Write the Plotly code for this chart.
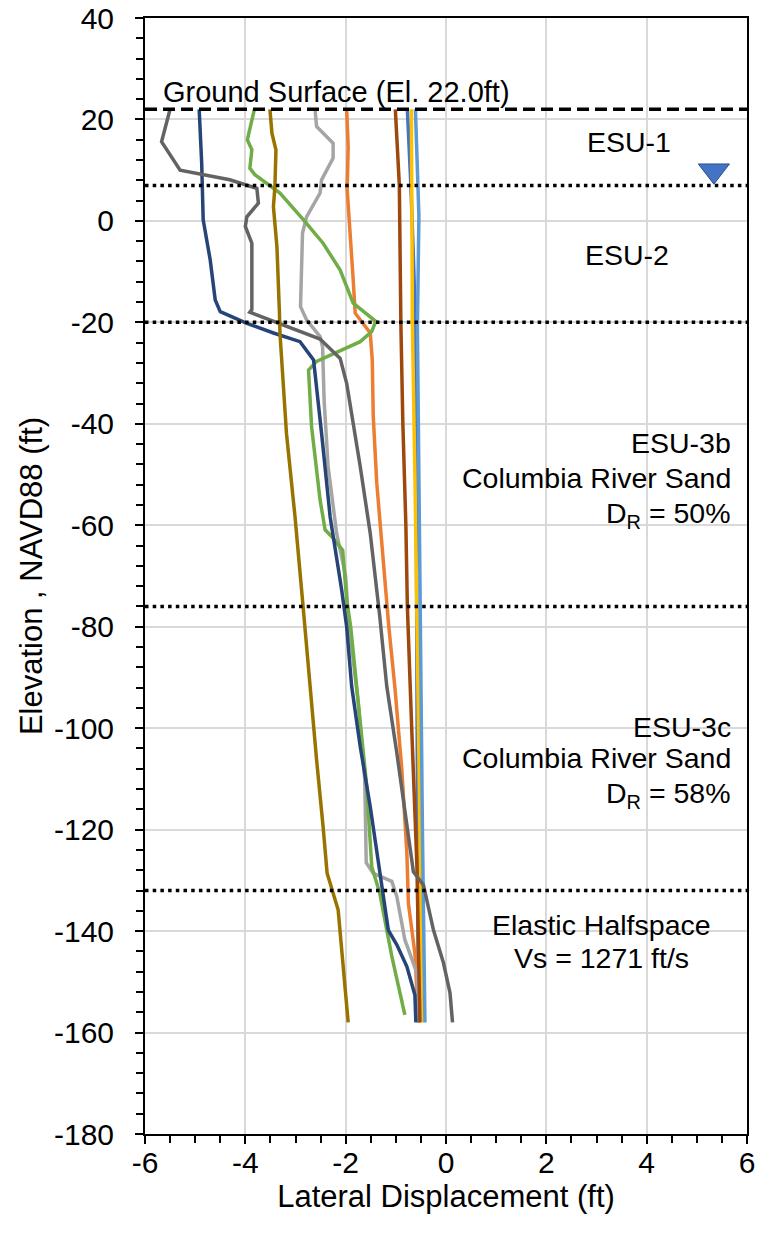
import plotly.graph_objects as go

# Lateral displacement profiles (ft) versus elevation (ft, NAVD88)
blue_x = [-0.77, -0.70, -0.64, -0.61, -0.60, -0.58, -0.56, -0.55]
blue_y = [22, 7, -10, -21, -40, -80, -120, -158]

orange_x = [-1.98, -1.95, -1.97, -1.91, -1.85, -1.81, -1.51, -1.47, -1.45, -1.38, -1.25, -1.14,
            -1.02, -0.88, -0.78, -0.75, -0.62, -0.55]
orange_y = [22, 14.6, 6.2, -1.7, -11.6, -18.2, -22.1, -27.4, -38.6, -51.7, -68.1, -80,
            -91.8, -108.2, -124.6, -134.5, -144.4, -158]

gray_x = [-2.61, -2.58, -2.25, -2.25, -2.48, -2.51, -2.78, -2.86, -2.90, -2.78, -2.51, -2.46,
          -2.43, -2.35, -2.18, -2.00, -1.95, -1.75, -1.62, -1.59, -1.45, -1.08, -0.98, -0.82,
          -0.58, -0.54]
gray_y = [22, 18.6, 15.3, 12.4, 8.1, 5.5, 0.8, -2.4, -16.9, -19.5, -22.8, -24.8,
          -35.3, -48.4, -61.6, -70, -78, -95, -110, -126.5, -128.6, -130.2, -133.2, -141.7,
          -148.3, -158]

gold_x = [-0.69, -0.67, -0.62, -0.58, -0.52, -0.48]
gold_y = [22, -20, -50, -76, -120, -158]

lightblue_x = [-0.61, -0.54, -0.57, -0.55, -0.52, -0.47, -0.42]
lightblue_y = [22, 1, -21, -43, -76, -120, -158]

green_x = [-3.82, -3.96, -3.87, -3.91, -3.81, -3.31, -2.84, -2.45, -2.11, -1.85, -1.40, -1.48,
           -1.71, -2.58, -2.74, -2.68, -2.51, -2.41, -2.28, -2.06, -1.98, -1.90, -1.68, -1.58,
           -1.48, -1.32, -1.18, -1.08, -0.82]
green_y = [22, 16, 14.0, 10.4, 9.1, 5.5, 0.2, -4.4, -9.7, -16.2, -19.8, -21.8,
           -23.8, -27.7, -29.4, -40.5, -55, -60.9, -62.2, -64.9, -74.7, -80, -101.7, -111.5,
           -127.3, -132.5, -139.8, -145, -156.5]

darkblue_x = [-4.92, -4.87, -4.84, -4.70, -4.60, -4.50, -3.97, -3.44, -2.91, -2.64, -2.48, -2.31,
              -2.08, -1.98, -1.88, -1.71, -1.51, -1.35, -1.15, -0.98, -0.78, -0.62, -0.60]
darkblue_y = [22, 11.4, 0.2, -7.7, -15.6, -17.9, -20.2, -22.1, -23.8, -27.4, -41.9, -58.3,
              -72.7, -80, -91.8, -103.6, -115.5, -126.6, -139.8, -142.7, -147, -152.6, -158]

brown_x = [-1.01, -0.93, -0.90, -0.86, -0.80, -0.77, -0.68, -0.58, -0.52]
brown_y = [22, 7, -20, -40, -60, -76, -101, -127, -158]

darkgray_x = [-5.50, -5.67, -5.30, -4.31, -3.77, -3.74, -3.97, -4.00, -3.87, -3.87, -3.91, -2.51,
              -2.11, -1.98, -1.71, -1.51, -1.32, -1.18, -0.98, -0.65, -0.45, -0.25, -0.05, 0.08,
              0.13]
darkgray_y = [22, 15.6, 10, 8.1, 6.4, 3.5, 0.8, -1.1, -4.4, -17.5, -18, -23.3,
              -27.1, -32, -48.4, -61.6, -78, -91.8, -104.9, -128.3, -130.9, -139.8, -146.3, -152.2,
              -158]

darkgold_x = [-3.51, -3.47, -3.39, -3.41, -3.44, -3.37, -3.32, -3.31, -3.18, -3.01, -2.84, -2.71,
              -2.58, -2.45, -2.37, -2.15, -2.05, -1.95]
darkgold_y = [22, 17.3, 14, 6.8, 2.8, -5.1, -18.2, -22.1, -41.9, -58.3, -77, -91.8,
              -106.2, -119.4, -128.6, -135.8, -146.3, -158]

series = [
    (blue_x, blue_y, "#4472C4"),
    (orange_x, orange_y, "#ED7D31"),
    (gray_x, gray_y, "#A5A5A5"),
    (gold_x, gold_y, "#FFC000"),
    (lightblue_x, lightblue_y, "#5B9BD5"),
    (green_x, green_y, "#70AD47"),
    (darkblue_x, darkblue_y, "#264478"),
    (brown_x, brown_y, "#9E480E"),
    (darkgray_x, darkgray_y, "#636363"),
    (darkgold_x, darkgold_y, "#997300"),
]

# Stratigraphy
ground_elev = 22.0
layer_boundaries = [7, -20, -76, -132]
water_table_x = [5.34]
water_table_y = [9.9]

# Axis ticks (plain hyphen for negatives)
x_ticks = [-6, -4, -2, 0, 2, 4, 6]
x_ticklabels = ["-6", "-4", "-2", "0", "2", "4", "6"]
y_ticks = [40, 20, 0, -20, -40, -60, -80, -100, -120, -140, -160, -180]
y_ticklabels = ["40", "20", "0", "-20", "-40", "-60", "-80", "-100", "-120", "-140", "-160", "-180"]

FONT = "Liberation Sans, Arial, sans-serif"

fig = go.Figure()

for xs, ys, col in series:
    fig.add_trace(go.Scatter(x=xs, y=ys, mode="lines",
                             line=dict(color=col, width=3.5), showlegend=False,
                             hoverinfo="skip"))

# Layer boundaries (dotted) and ground surface (dashed)
for el in layer_boundaries:
    fig.add_trace(go.Scatter(x=[-6, 6], y=[el, el], mode="lines",
                             line=dict(color="black", width=3.5, dash="3.5px,4.2px"),
                             showlegend=False, hoverinfo="skip"))
fig.add_trace(go.Scatter(x=[-6, 6], y=[ground_elev, ground_elev], mode="lines",
                         line=dict(color="black", width=3.5, dash="12px,6px"),
                         showlegend=False, hoverinfo="skip"))

# Water table symbol
fig.add_trace(go.Scatter(x=water_table_x, y=water_table_y, mode="markers",
                         marker=dict(symbol="triangle-down", size=27, color="#4472C4",
                                     line=dict(color="#2F528F", width=1)),
                         showlegend=False, hoverinfo="skip"))

ann_font = dict(family=FONT, size=28.5, color="black")
annotations = [
    dict(x=-5.67, y=25.5, text="Ground Surface (El. 22.0ft)", xanchor="left",
         font=dict(family=FONT, size=29, color="black")),
    dict(x=3.65, y=15.6, text="ESU-1", xanchor="center"),
    dict(x=3.61, y=-6.7, text="ESU-2", xanchor="center"),
    dict(x=5.70, y=-43.8, text="ESU-3b", xanchor="right"),
    dict(x=5.70, y=-50.7, text="Columbia River Sand", xanchor="right"),
    dict(x=5.70, y=-57.9, text="D<sub>R</sub> = 50%", xanchor="right"),
    dict(x=5.70, y=-99.7, text="ESU-3c", xanchor="right"),
    dict(x=5.70, y=-105.9, text="Columbia River Sand", xanchor="right"),
    dict(x=5.70, y=-113.1, text="D<sub>R</sub> = 58%", xanchor="right"),
    dict(x=3.09, y=-138.8, text="Elastic Halfspace", xanchor="center"),
    dict(x=3.09, y=-145.3, text="Vs = 1271 ft/s", xanchor="center"),
]
for a in annotations:
    a.setdefault("font", ann_font)
    fig.add_annotation(xref="x", yref="y", showarrow=False, yanchor="middle",
                       borderpad=0, **a)

axis_common = dict(
    showline=True, linecolor="black", linewidth=2, mirror=True,
    ticks="outside", ticklen=8, tickwidth=2, tickcolor="black",
    showgrid=True, gridcolor="#D9D9D9", gridwidth=1.5,
    zeroline=False, automargin=False,
    tickfont=dict(family=FONT, size=30, color="black"),
)

fig.update_xaxes(range=[-6, 6], tickmode="array", tickvals=x_ticks, ticktext=x_ticklabels,
                 minor=dict(dtick=0.5, tick0=-6, ticks="outside", ticklen=7, tickwidth=2,
                            tickcolor="black", showgrid=False),
                 title=dict(text="Lateral Displacement (ft)",
                            font=dict(family=FONT, size=31, color="black"), standoff=3),
                 ticklabelstandoff=-7,
                 **axis_common)
fig.update_yaxes(range=[-180, 40], tickmode="array", tickvals=y_ticks, ticktext=y_ticklabels,
                 minor=dict(dtick=4, tick0=0, ticks="outside", ticklen=7, tickwidth=2,
                            tickcolor="black", showgrid=False),
                 title=dict(text="Elevation , NAVD88 (ft)",
                            font=dict(family=FONT, size=31, color="black"), standoff=2),
                 ticklabelstandoff=15,
                 **axis_common)

fig.update_layout(
    width=757, height=1236,
    margin=dict(l=145, r=10, t=18, b=102),
    plot_bgcolor="white", paper_bgcolor="white",
    font=dict(family=FONT, color="black"),
    showlegend=False,
)

fig.write_html("out.html")
